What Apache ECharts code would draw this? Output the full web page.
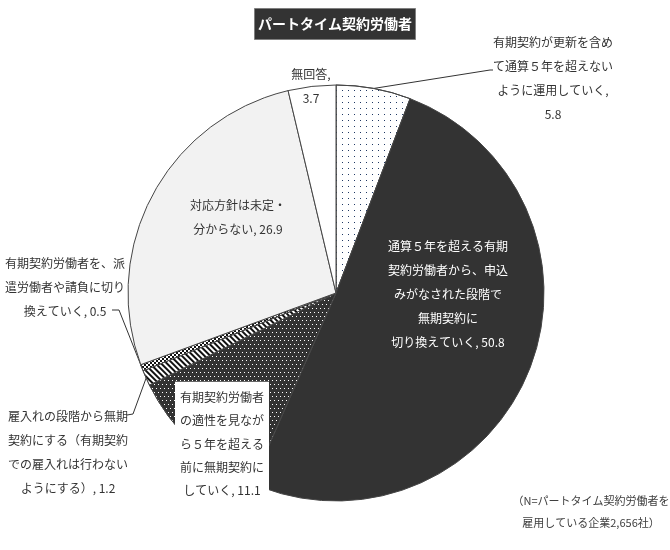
<!DOCTYPE html>
<html><head><meta charset="utf-8">
<script src="https://cdn.jsdelivr.net/npm/echarts@6/dist/echarts.min.js"></script>
<style>html,body{margin:0;padding:0;background:#fff}#c{width:670px;height:550px}</style>
</head><body><div id="c"></div>
<script>
var categories = [
  '有期契約が更新を含め\nて通算５年を超えない\nように運用していく',
  '通算５年を超える有期\n契約労働者から、申込\nみがなされた段階で\n無期契約に\n切り換えていく',
  '有期契約労働者\nの適性を見なが\nら５年を超える\n前に無期契約に\nしていく',
  '雇入れの段階から無期\n契約にする（有期契約\nでの雇入れは行わない\nようにする）',
  '有期契約労働者を、派\n遣労働者や請負に切り\n換えていく',
  '対応方針は未定・\n分からない',
  '無回答'
];
var values = [5.8, 50.8, 11.1, 1.2, 0.5, 26.9, 3.7];
var breakBeforeValue = [true, false, false, false, false, false, true];
// label centres and leader-line bends (annotation layout only)
var labelPos = [[553, 78], [448, 294], [222, 444], [68, 452], [65, 287], [238, 217], [311, 86]];
var lineBend = [[[490, 70], [493, 70]], null, null, [[133, 414], [127, 415]], [[119, 310], [112, 310]], null, null];

var CX = 336, CY = 293, R = 208;
var FONT = '"Noto Sans CJK JP", "Noto Sans", sans-serif';
var styles = [
  {color: '#ffffff', decal: {symbol: 'rect', symbolSize: 1, color: '#1f3864', dashArrayX: [1, 5], dashArrayY: [1, 5]}},
  {color: '#333333'},
  {color: '#333333', decal: {symbol: 'rect', symbolSize: 1, color: '#ffffff', dashArrayX: [[1, 3], [0, 2, 1, 1]], dashArrayY: [1, 3]}},
  {color: '#111111', decal: {symbol: 'rect', symbolSize: 1, color: '#ffffff', dashArrayX: [1, 0], dashArrayY: [1.5, 1.5], rotation: Math.PI / 4}},
  {color: '#111111', decal: {symbol: 'rect', symbolSize: 1, color: '#ffffff', dashArrayX: [[2, 2], [0, 2, 2, 0]], dashArrayY: [2, 0]}},
  {color: '#f2f2f2'},
  {color: '#ffffff'}
];
var inside = [false, true, true, false, false, true, false];

var total = values.reduce(function (a, b) { return a + b; }, 0);
function anchorOf(i) {
  var before = 0;
  for (var k = 0; k < i; k++) before += values[k];
  var a = (before + values[i] / 2) / total * Math.PI * 2;
  return [CX + R * Math.sin(a), CY - R * Math.cos(a)];
}

var data = values.map(function (v, i) {
  var item = {
    name: categories[i], value: v,
    itemStyle: styles[i],
    label: {position: inside[i] ? 'inside' : 'outside'},
    labelLine: {show: !!lineBend[i]}
  };
  if (i === 1) item.label.color = '#ffffff';
  if (i === 2) {
    item.label.backgroundColor = '#ffffff';
    item.label.padding = [4, 5, 4, 5];
    item.label.lineHeight = 23.3;
  }
  return item;
});

var chart = echarts.init(document.getElementById('c'));
chart.setOption({
  animation: false,
  title: {
    text: 'パートタイム契約労働者',
    left: 'center', top: 8,
    backgroundColor: '#333333', borderColor: '#7f7f7f', borderWidth: 1,
    padding: [8, 4, 8, 4],
    textStyle: {color: '#ffffff', fontSize: 14, fontWeight: 'bold', fontFamily: FONT, lineHeight: 16}
  },
  graphic: [{
    type: 'text',
    style: {
      x: 591, y: 512, text: '（N=パートタイム契約労働者を\n雇用している企業2,656社）',
      align: 'center', verticalAlign: 'middle', lineHeight: 22,
      font: '11px ' + FONT, fill: '#404040'
    }
  }],
  series: [{
    type: 'pie',
    center: [CX, CY],
    radius: [0, R],
    startAngle: 90,
    clockwise: true,
    avoidLabelOverlap: false,
    itemStyle: {borderColor: '#454545', borderWidth: 1},
    label: {
      color: '#333333', fontSize: 12, fontFamily: FONT, lineHeight: 24, align: 'center',
      formatter: function (p) {
        return p.name + (breakBeforeValue[p.dataIndex] ? ',\n' : ', ') + p.value;
      }
    },
    labelLine: {lineStyle: {color: '#333333', width: 1}, length: 10, length2: 6, smooth: false},
    labelLayout: function (p) {
      var i = p.dataIndex;
      var pos = labelPos[i];
      var out = {x: pos[0], y: pos[1], align: 'center', verticalAlign: 'middle'};
      if (lineBend[i]) {
        out.labelLinePoints = [anchorOf(i), lineBend[i][0], lineBend[i][1]];
      }
      return out;
    },
    data: data
  }]
});
</script></body></html>
